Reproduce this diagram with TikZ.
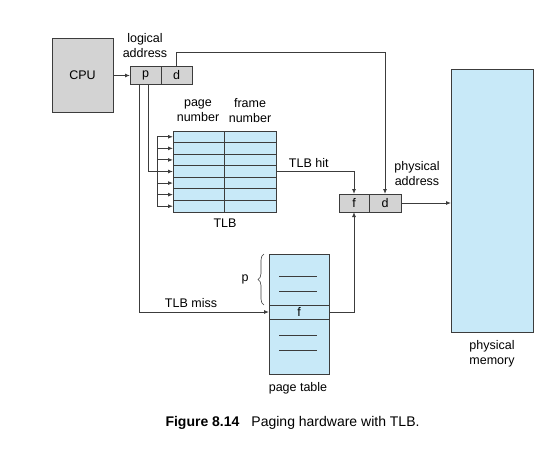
\documentclass[tikz,border=0pt]{standalone}
\usepackage{fontspec}
\setmainfont{Liberation Sans}
\usetikzlibrary{positioning,arrows.meta,decorations.pathreplacing}
\definecolor{cellgray}{HTML}{D3D3D3}
\definecolor{cellblue}{HTML}{C8E9F8}
\definecolor{linegray}{HTML}{3C3C3C}

\begin{document}
\begin{tikzpicture}[x=1pt,y=-1pt,
    every node/.style={font=\fontsize{12.5}{15}\selectfont, align=center},
    line/.style={draw=linegray, line width=0.9pt},
    arr/.style={line, -{Latex[length=5pt,width=4pt]}},
    graycell/.style={line, fill=cellgray, inner sep=0pt, outer sep=0pt, minimum height=18},
    tlbcell/.style={line, fill=cellblue, inner sep=0pt, outer sep=0pt, minimum height=11.57}]
    \useasboundingbox (0,0) rectangle (554,453);

    %Nodes
    \node[line, fill=cellgray, minimum width=61, minimum height=74, inner sep=0pt, outer sep=0pt] at (82.5,75.5) (cpu) {CPU};
    \node[graycell, minimum width=31] at (145.5,75.5) (lp) {p};
    \node[graycell, minimum width=31] at (176.5,75.5) (ld) {d};
    \node at (145,45.5) (logaddr) {logical\\address};

    \foreach \i in {1,...,7} {
        \node[tlbcell, minimum width=51] at (198.5,{131+11.57*(\i-0.5)}) (tlbp\i) {};
        \node[tlbcell, minimum width=52] at (250,{131+11.57*(\i-0.5)}) (tlbf\i) {};
    }
    \node at (198,111) (pagenum) {page\\number};
    \node at (250,111) (framenum) {frame\\number};
    \node at (225,223) (tlb) {TLB};

    \node[graycell, minimum width=30] at (354,203) (pf) {f};
    \node[graycell, minimum width=32] at (385,203) (pd) {d};
    \node at (417,174) (physaddr) {physical\\address};

    \node[line, fill=cellblue, minimum width=82, minimum height=263, inner sep=0pt, outer sep=0pt] at (492,200.5) (mem) {};
    \node at (492,354) (memlabel) {physical\\memory};

    \node[line, fill=cellblue, minimum width=60, minimum height=120, inner sep=0pt, outer sep=0pt] at (299,314) (pt) {};
    \node[line, fill=cellblue, minimum width=60, minimum height=14, inner sep=0pt, outer sep=0pt] at (299,312) (ptf) {f};
    \node at (298,388) (ptlabel) {page table};
    \node at (245,279) (ptp) {p};

    \coordinate (bus) at (157,0);

    %Lines
    \draw[arr] (cpu.east) -- (lp.west);
    \draw[arr] (ld.north) -- ++(0,-14) -| (pd.north);
    \draw[line] ([xshift=2.5pt]lp.south) |- (tlbp4.west -| bus);
    \draw[line] (tlbp1.west -| bus) -- (tlbp7.west -| bus);
    \foreach \i in {1,...,7}
        \draw[arr] (tlbp\i.west -| bus) -- (tlbp\i.west);
    \draw[arr] (tlbf4.east) -| (pf.north) node[pos=0.21, above] {TLB hit};
    \draw[arr] ([xshift=-6.5pt]lp.south) |- (ptf.west) node[pos=0.7, above=1pt] {TLB miss};
    \draw[arr] (ptf.east) -| (pf.south);
    \draw[arr] (pd.east) -- (pd.east -| mem.west);

    %Page table entries
    \foreach \y in {276,291,335,350}
        \draw[line] (279,\y) -- (317,\y);
    \draw[line, line width=0.6pt, decorate, decoration={brace, amplitude=6pt}] (264,305) -- (264,254);

    %Caption
    \node[anchor=west, font=\fontsize{14}{16}\selectfont] at (162,423) (caption) {\textbf{Figure 8.14}\hspace{12pt}Paging hardware with TLB.};
\end{tikzpicture}
\end{document}
